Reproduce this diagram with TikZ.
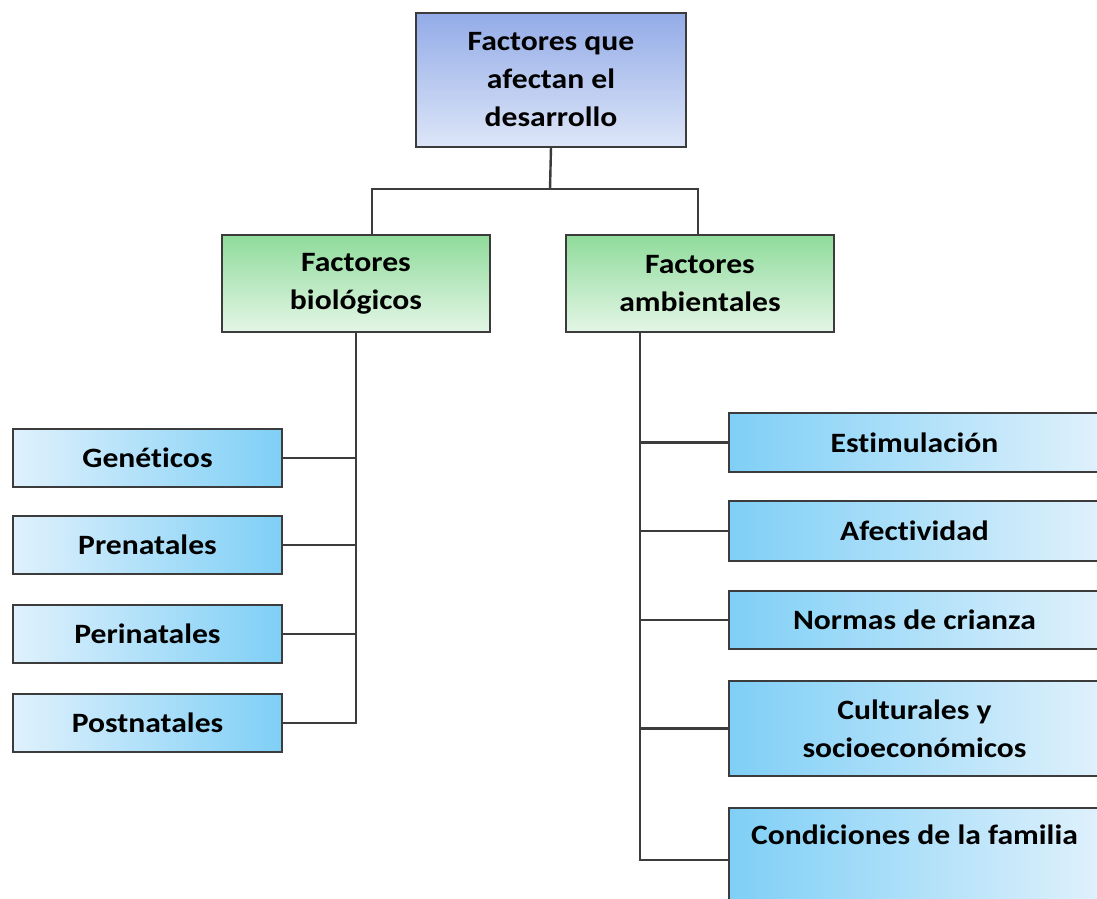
\documentclass[tikz,border=0pt]{standalone}
\usepackage{fontspec}
\setmainfont{Carlito}[FakeStretch=1.13, Ligatures={NoCommon}]
\definecolor{edge}{HTML}{3C3C3C}
\definecolor{bluetop}{HTML}{93ABE7}
\definecolor{bluebot}{HTML}{DDE6F8}
\definecolor{greentop}{HTML}{8FDB9B}
\definecolor{greenbot}{HTML}{E4F6E6}
\definecolor{cyandark}{HTML}{7FCFF6}
\definecolor{cyanlight}{HTML}{DFF1FC}
\tikzset{
  box/.style={draw=edge, line width=2pt, inner sep=0pt, outer sep=0pt, align=center,
    font=\bfseries\fontsize{28}{38}\selectfont, text=black},
  topbox/.style={box, top color=bluetop, bottom color=bluebot},
  midbox/.style={box, top color=greentop, bottom color=greenbot, minimum width=268pt, minimum height=97pt},
  leftbox/.style={box, left color=cyanlight, right color=cyandark, minimum width=269pt, minimum height=58pt},
  rightbox/.style={box, left color=cyandark, right color=cyanlight, minimum width=371pt},
  link/.style={draw=edge, line width=2.4pt}
}
\begin{document}
\begin{tikzpicture}[x=1pt, y=-1pt]
\useasboundingbox (0,0) rectangle (1097,898);
\clip (0,0) rectangle (1097,898);
\node[topbox, minimum width=270pt, minimum height=134pt] (top) at (551,80) {Factores que\\afectan el\\desarrollo};
\node[midbox] (bio) at (356,283.5) {Factores\\biológicos};
\node[midbox] (amb) at (700,283.5) {Factores\\ambientales};
\node[leftbox] (gen) at (147.5,458) {Genéticos};
\node[leftbox] (pre) at (147.5,545) {Prenatales};
\node[leftbox] (peri) at (147.5,634) {Perinatales};
\node[leftbox] (post) at (147.5,723) {Postnatales};
\node[rightbox, minimum height=59pt] (est) at (914.5,442.5) {Estimulación};
\node[rightbox, minimum height=60pt] (afe) at (914.5,531) {Afectividad};
\node[rightbox, minimum height=58pt] (nor) at (914.5,620) {Normas de crianza};
\node[rightbox, minimum height=95pt] (cul) at (914.5,728.5) {Culturales y\\socioeconómicos};
\node[rightbox, minimum height=112pt, text height=20pt, text depth=60pt] (con) at (914.5,864) {Condiciones de la familia};
\coordinate (j) at (550,189);
\draw[link] (top.south) -- (j);
\draw[link] ([xshift=16pt]bio.north) |- (j) -| ([xshift=-2pt]amb.north);
\draw[link] (bio.south) -- (bio.south |- post.east) -- (post.east);
\foreach \n in {gen,pre,peri} \draw[link] (\n.east) -- (\n.east -| bio.south);
\coordinate (rt) at ([xshift=-60pt]amb.south);
\coordinate (cj) at ([yshift=4pt]con.west);
\draw[link] (rt) -- (rt |- cj) -- (cj);
\foreach \n in {est,afe,nor,cul} \draw[link] (\n.west) -- (\n.west -| rt);
\end{tikzpicture}
\end{document}
